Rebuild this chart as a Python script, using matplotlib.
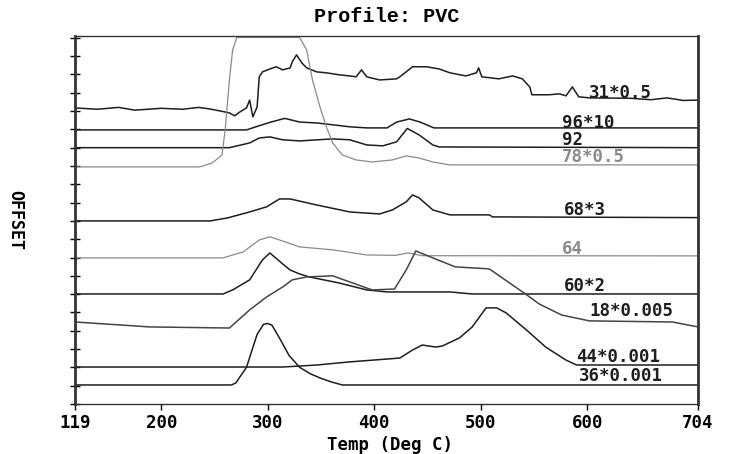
import matplotlib

matplotlib.use("Agg")
import matplotlib.pyplot as plt

# temperature (deg C) / offset pairs, one pair per run
t31 = [119, 140, 160, 175, 200, 220, 235, 245, 255, 264, 269, 274, 280, 283, 286,
       290, 292, 295, 302, 308, 314, 321, 323, 327, 332, 336.5, 346, 355, 367,
       377, 383, 388, 393, 405, 421, 424, 436, 449, 461, 471, 486, 496, 498, 501,
       517, 530, 539, 546, 548, 564, 574, 580, 586, 592, 602, 640, 660, 675, 690, 704]
v31 = [16.17, 16.1, 16.2, 16.05, 16.15, 16.1, 16.2, 16.12, 16.01, 15.9, 15.74,
       15.96, 16.17, 16.6, 15.68, 16.23, 17.87, 18.14, 18.3, 18.42, 18.25, 18.36,
       18.69, 19.07, 18.63, 18.36, 18.14, 18.09, 17.98, 17.92, 17.87, 18.25, 17.87,
       17.7, 17.76, 17.87, 18.42, 18.42, 18.3, 18.09, 17.92, 18.09, 18.36, 17.87,
       17.76, 17.92, 17.76, 17.32, 16.89, 16.89, 16.94, 16.83, 17.32, 16.78, 16.72,
       16.7, 16.62, 16.72, 16.58, 16.6]

t96 = [119, 280, 292, 303, 316, 330, 346, 361, 377, 393, 412, 421, 433, 443, 456, 704]
v96 = [14.97, 14.97, 15.2, 15.4, 15.6, 15.4, 15.35, 15.25, 15.14, 15.08, 15.08,
       15.4, 15.57, 15.4, 15.08, 15.08]

t92 = [119, 264, 283, 292, 302, 314, 330, 361, 377, 393, 408, 421, 431, 442, 455, 461, 704]
v92 = [14.0, 14.0, 14.26, 14.53, 14.59, 14.43, 14.37, 14.48, 14.43, 14.15, 14.1,
       14.32, 15.05, 14.7, 14.15, 14.04, 14.0]

t78 = [119, 236, 248, 257, 260, 264, 267, 271, 330, 336.5, 342, 349, 355, 361, 370,
       383, 398, 417, 430, 442, 455, 471, 704]
v78 = [12.95, 12.95, 13.17, 13.6, 14.97, 17.7, 19.34, 20.02, 20.02, 19.34, 17.7,
       16.23, 15.14, 14.26, 13.6, 13.33, 13.22, 13.33, 13.55, 13.44, 13.22, 13.06, 13.06]

t68 = [119, 246, 262, 283, 299, 311, 321, 346, 377, 405, 417, 430, 436, 442, 455,
       471, 508, 511, 704]
v68 = [10.0, 10.0, 10.16, 10.49, 10.77, 11.2, 11.2, 10.87, 10.49, 10.38, 10.6,
       11.04, 11.42, 11.26, 10.6, 10.33, 10.33, 10.22, 10.18]

t64 = [119, 258, 277, 292, 302, 311, 330, 361, 393, 420, 432, 445, 704]
v64 = [7.98, 7.98, 8.31, 8.96, 9.13, 8.96, 8.58, 8.42, 8.14, 8.12, 8.25, 8.1, 8.09]

t60 = [119, 258, 267, 283, 295, 302, 314, 321, 330, 339, 367, 393, 412, 471, 492, 704]
v60 = [6.01, 6.01, 6.23, 6.78, 7.87, 8.25, 7.65, 7.32, 7.1, 6.94, 6.61, 6.23, 6.12,
       6.12, 6.01, 6.01]

t18 = [119, 189, 264, 283, 299, 314, 323, 336.5, 361, 398, 419, 430, 439, 455, 476,
       508, 542, 555, 576, 602, 680, 704]
v18 = [4.48, 4.21, 4.15, 5.14, 5.85, 6.39, 6.78, 6.94, 7.0, 6.23, 6.28, 7.32, 8.36,
       7.98, 7.49, 7.38, 6.01, 5.46, 4.86, 4.54, 4.48, 4.21]

t44 = [119, 314, 346, 377, 424, 436, 445, 458, 464, 480, 492, 505, 515, 524, 543,
       561, 580, 590, 704]
v44 = [2.02, 2.02, 2.13, 2.3, 2.51, 2.95, 3.22, 3.11, 3.17, 3.61, 4.21, 5.25, 5.25,
       4.97, 4.04, 3.11, 2.4, 2.13, 2.13]

t36 = [119, 266, 270, 280, 290, 296, 300, 304, 312, 320, 330, 340, 350, 360, 370, 704]
v36 = [1.04, 1.04, 1.15, 2.0, 3.8, 4.35, 4.4, 4.3, 3.5, 2.65, 2.0, 1.65, 1.4, 1.2,
       1.04, 1.04]

labels = ["31*0.5", "96*10", "92", "78*0.5", "68*3", "64", "60*2", "18*0.005",
          "44*0.001", "36*0.001"]
label_t = [602, 576, 576, 576, 578, 576, 578, 602, 590, 592]
label_v = [17.0, 15.36, 14.43, 13.5, 10.6, 8.47, 6.45, 5.08, 2.57, 1.53]

xticks = [119, 200, 300, 400, 500, 600, 704]

DARK = "#1e1e1e"
GREY = "#8a8a8a"
MID = "#444444"

runs = [(t31, v31, DARK), (t96, v96, DARK), (t92, v92, DARK), (t78, v78, GREY),
        (t68, v68, DARK), (t64, v64, GREY), (t60, v60, DARK), (t18, v18, MID),
        (t44, v44, DARK), (t36, v36, DARK)]

fig = plt.figure(figsize=(7.46, 4.54), dpi=100)
ax = fig.add_axes([75 / 746, 50 / 454, 623 / 746, 368 / 454])

for (t, v, col), lab, lt, lv in zip(runs, labels, label_t, label_v):
    ax.plot(t, v, color=col, lw=1.1 if col != GREY else 0.9)
    ax.text(lt, lv, lab, color=col if col != MID else DARK, fontsize=12.5,
            family="DejaVu Sans Mono", weight="bold", va="center", ha="left")

ax.set_xlim(119, 704)
ax.set_ylim(0, 20.1)
ax.set_xticks(xticks)
ax.set_xticklabels([str(x) for x in xticks], family="DejaVu Sans Mono",
                   weight="bold", fontsize=12.5)
ax.set_yticks(range(0, 21))
ax.set_yticklabels([])
ax.tick_params(axis="x", direction="out", length=4, width=1, pad=3)
ax.tick_params(axis="y", direction="inout", length=7, width=1)
for side in ("top", "bottom"):
    ax.spines[side].set_linewidth(1.0)
ax.spines["left"].set_linewidth(2.0)
ax.spines["right"].set_linewidth(2.0)
for s in ax.spines.values():
    s.set_color("#333333")

ax.set_xlabel("Temp (Deg C)", family="DejaVu Sans Mono", weight="bold",
              fontsize=12.5, va="center")
ax.xaxis.set_label_coords(0.506, -41 / 368)
ax.set_ylabel("OFFSET", family="DejaVu Sans Mono", weight="bold", fontsize=12,
              rotation=270, va="center")
ax.yaxis.set_label_coords(-60 / 623, 0.5)
ax.set_title("Profile: PVC", family="Liberation Mono", weight="bold",
             fontsize=14.5, pad=10)

fig.savefig("out.png", dpi=100, facecolor="white")
